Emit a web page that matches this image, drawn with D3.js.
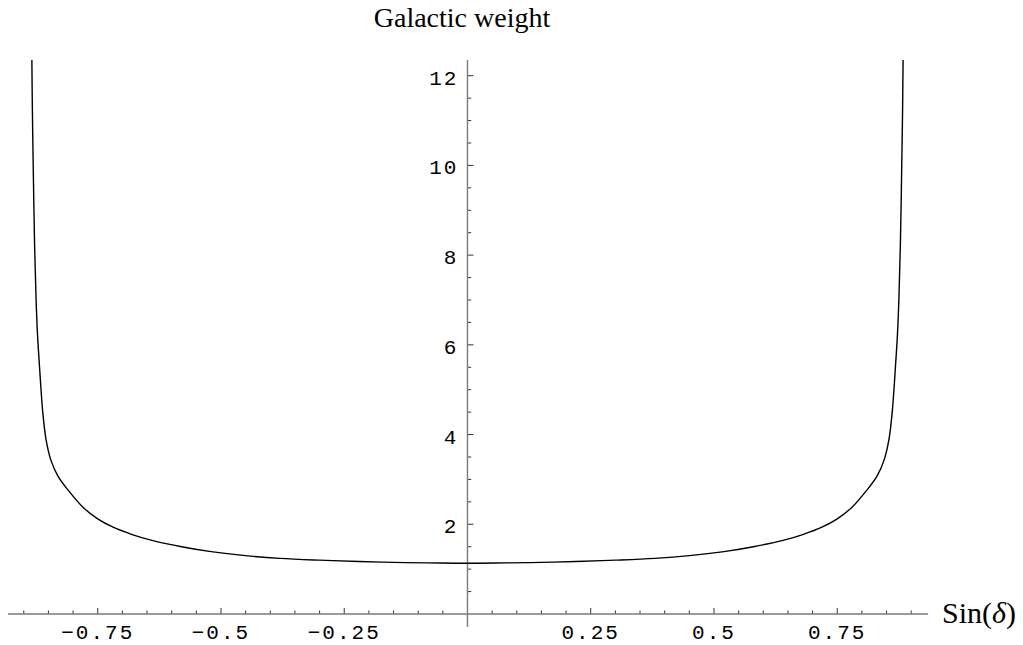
<!DOCTYPE html>
<html>
<head>
<meta charset="utf-8">
<script src="https://cdn.jsdelivr.net/npm/d3@7"></script>
<style>
  html, body { margin: 0; padding: 0; background: #fff; }
  svg { display: block; }
</style>
</head>
<body>
<svg id="chart" width="1023" height="645"></svg>
<script>
// ---- data ----
const sinDelta = [-0.8838, -0.8825, -0.881, -0.878, -0.875, -0.872, -0.868, -0.865, -0.8615, -0.855, -0.845, -0.831, -0.81, -0.78, -0.75, -0.72, -0.68, -0.64, -0.58, -0.52, -0.45, -0.38, -0.30, -0.22, -0.15, -0.08, 0,
                  0.08, 0.15, 0.22, 0.30, 0.38, 0.45, 0.52, 0.58, 0.64, 0.68, 0.72, 0.75, 0.78, 0.81, 0.831, 0.845, 0.855, 0.8615, 0.865, 0.868, 0.872, 0.875, 0.878, 0.881, 0.8825, 0.8838];
const weight = [12.6, 11.2, 10.1, 8.2, 7.0, 6.2, 5.5, 5.0, 4.5, 3.9, 3.43, 3.08, 2.76, 2.38, 2.12, 1.94, 1.77, 1.64, 1.50, 1.39, 1.30, 1.24, 1.20, 1.17, 1.15, 1.14, 1.13,
                1.14, 1.15, 1.17, 1.20, 1.24, 1.30, 1.39, 1.50, 1.64, 1.77, 1.94, 2.12, 2.38, 2.76, 3.08, 3.43, 3.9, 4.5, 5.0, 5.5, 6.2, 7.0, 8.2, 10.1, 11.2, 12.6];
const xMajorTicks = [-0.75, -0.5, -0.25, 0.25, 0.5, 0.75];
const xTickLabels = ["\u22120.75", "\u22120.5", "\u22120.25", "0.25", "0.5", "0.75"];
const yMajorTicks = [2, 4, 6, 8, 10, 12];
const yTickLabels = ["2", "4", "6", "8", "10", "12"];
const xMinorStep = 0.05;
const yMinorStep = 0.5;
const titleText = "Galactic weight";

// ---- scales ----
const svg = d3.select("#chart");
const x = d3.scaleLinear().domain([-0.9320, 0.9341]).range([8, 928]);
const y = d3.scaleLinear().domain([-0.29, 12.35]).range([627, 60]);

const axisColor = "#7a7a7a";
const tickColor = "#333";

// clip for curve
svg.append("defs").append("clipPath").attr("id", "plotclip")
  .append("rect")
  .attr("x", x(-0.9320)).attr("y", y(12.35))
  .attr("width", x(0.9341) - x(-0.9320)).attr("height", y(-0.29) - y(12.35));

// x minor/major ticks
const xAllTicks = d3.range(-18, 19).map(i => +(i * xMinorStep).toFixed(2)).filter(v => v !== 0);
const x0 = y(0);
svg.append("g").selectAll("line").data(xAllTicks).join("line")
  .attr("x1", d => x(d)).attr("x2", d => x(d))
  .attr("y1", x0)
  .attr("y2", d => Math.abs(d / 0.25 - Math.round(d / 0.25)) < 1e-6 ? x0 - 6 : x0 - 3.5)
  .attr("stroke", tickColor).attr("stroke-width", 1);

// y minor/major ticks
const yAllTicks = d3.range(1, 25).map(i => i * yMinorStep);
const y0 = x(0);
svg.append("g").selectAll("line").data(yAllTicks).join("line")
  .attr("y1", d => y(d)).attr("y2", d => y(d))
  .attr("x1", y0)
  .attr("x2", d => (d % 2 === 0) ? y0 + 6 : y0 + 3.7)
  .attr("stroke", tickColor).attr("stroke-width", 1);

// axes lines
svg.append("line")
  .attr("x1", x(-0.9320)).attr("x2", x(0.9341)).attr("y1", x0).attr("y2", x0)
  .attr("stroke", axisColor).attr("stroke-width", 1.4);
svg.append("line")
  .attr("x1", y0).attr("x2", y0).attr("y1", y(12.35)).attr("y2", y(-0.29))
  .attr("stroke", axisColor).attr("stroke-width", 1.4);

// tick labels
svg.append("g").selectAll("text").data(xMajorTicks).join("text")
  .attr("x", d => x(d)).attr("y", 639)
  .attr("text-anchor", "middle")
  .attr("font-family", "'Liberation Mono', 'Courier New', monospace")
  .attr("font-size", 21).attr("letter-spacing", 2)
  .attr("fill", "#000")
  .text((d, i) => xTickLabels[i]);

svg.append("g").selectAll("text").data(yMajorTicks).join("text")
  .attr("x", y0 - 9).attr("y", d => y(d) + 9)
  .attr("text-anchor", "end")
  .attr("font-family", "'Liberation Mono', 'Courier New', monospace")
  .attr("font-size", 21).attr("letter-spacing", 2)
  .attr("fill", "#000")
  .text((d, i) => yTickLabels[i]);

// curve
const pts = sinDelta.map((s, i) => [s, weight[i]]);
const line = d3.line().x(d => x(d[0])).y(d => y(d[1])).curve(d3.curveCatmullRom.alpha(0.5));
svg.append("path")
  .attr("clip-path", "url(#plotclip)")
  .attr("d", line(pts))
  .attr("fill", "none").attr("stroke", "#000").attr("stroke-width", 1.4);

// title
svg.append("text")
  .attr("x", 462).attr("y", 27)
  .attr("text-anchor", "middle")
  .attr("font-family", "'Liberation Serif', 'Times New Roman', serif")
  .attr("font-size", 28)
  .attr("fill", "#000")
  .text(titleText);

// x axis label
const xl = svg.append("text")
  .attr("x", 942).attr("y", 623)
  .attr("font-family", "'Liberation Serif', 'Times New Roman', serif")
  .attr("font-size", 30)
  .attr("fill", "#000");
xl.append("tspan").text("Sin(");
xl.append("tspan").attr("font-style", "italic").text("\u03b4");
xl.append("tspan").text(")");
</script>
</body>
</html>
